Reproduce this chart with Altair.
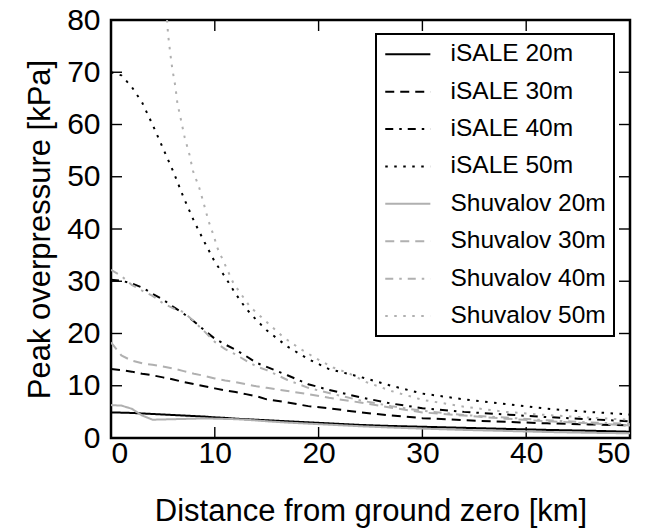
import altair as alt
import pandas as pd

# ---- data ----
series_names = ["iSALE 20m", "iSALE 30m", "iSALE 40m", "iSALE 50m",
                "Shuvalov 20m", "Shuvalov 30m", "Shuvalov 40m", "Shuvalov 50m"]

dist_km = [0, 1, 2, 3, 4, 5, 6, 7, 8, 9, 10, 11, 12, 13, 14, 15, 17, 19, 21,
           24, 27, 30, 34, 38, 42, 46, 50]

isale_20 = [4.9, 4.85, 4.8, 4.7, 4.6, 4.5, 4.4, 4.3, 4.2, 4.1, 3.95, 3.85, 3.7,
            3.6, 3.5, 3.4, 3.2, 3.0, 2.8, 2.5, 2.3, 2.15, 1.95, 1.75, 1.55, 1.4, 1.2]
isale_30 = [13.2, 13.0, 12.7, 12.3, 12.0, 11.6, 11.2, 10.7, 10.3, 9.9, 9.5, 9.1,
            8.8, 8.4, 8.0, 7.4, 6.8, 6.1, 5.7, 4.9, 4.3, 3.8, 3.4, 3.1, 2.8, 2.6, 2.4]
isale_40 = [30.3, 30.1, 29.6, 28.8, 27.6, 26.5, 25.1, 23.8, 22.3, 20.6, 19.0,
            17.9, 16.9, 15.7, 14.4, 13.6, 12.0, 10.3, 9.2, 7.8, 6.6, 5.7, 5.0,
            4.5, 4.0, 3.6, 3.2]
isale_50 = [70.0, 69.4, 67.2, 64.2, 60.0, 55.5, 51.0, 46.0, 41.5, 37.5, 33.7,
            30.8, 27.6, 24.8, 22.6, 20.6, 17.5, 15.1, 13.2, 11.7, 10.0, 8.5,
            7.4, 6.5, 5.6, 5.0, 4.5]
shuv_20 = [6.3, 6.2, 5.6, 4.3, 3.5, 3.55, 3.6, 3.65, 3.7, 3.75, 3.7, 3.65, 3.6,
           3.5, 3.35, 3.2, 2.95, 2.75, 2.55, 2.25, 2.0, 1.8, 1.55, 1.35, 1.15,
           1.0, 0.9]
shuv_30 = [18.3, 15.8, 14.8, 14.3, 14.0, 13.7, 13.3, 12.8, 12.3, 11.9, 11.4,
           11.0, 10.7, 10.3, 9.9, 9.6, 9.0, 8.4, 7.7, 6.8, 5.8, 4.9, 4.3, 3.7,
           3.2, 2.8, 2.4]
shuv_40 = [32.2, 31.0, 29.3, 28.2, 27.2, 25.8, 24.8, 24.1, 22.3, 20.4, 18.4,
           17.0, 16.0, 14.8, 13.7, 13.0, 11.1, 9.6, 8.6, 7.2, 6.1, 5.2, 4.4,
           3.9, 3.4, 3.0, 2.7]

dist_shuv_50 = [5.4, 5.5, 5.7, 5.9, 6.2, 6.4, 6.75, 7.1, 7.55, 7.9, 8.5, 8.96,
                9.4, 9.95, 10.2, 11.8, 13.4, 15.0, 16.6, 18.2, 19.8, 21.4, 23.0,
                24.6, 27, 30, 34, 38, 42, 46, 50]
shuv_50 = [80.0, 77.2, 73.8, 70.7, 67.3, 64.0, 60.8, 57.5, 54.3, 51.1, 47.9,
           44.7, 41.5, 38.4, 36.6, 29.6, 25.1, 22.2, 19.3, 17.1, 15.2, 13.5,
           12.3, 10.7, 9.0, 7.3, 6.0, 5.0, 4.4, 3.9, 3.5]

x_tick_values = [10, 20, 30, 40]
y_tick_values = [10, 20, 30, 40, 50, 60, 70]
x_label_values = [0, 10, 20, 30, 40, 50]
y_label_values = [0, 10, 20, 30, 40, 50, 60, 70, 80]

# ---- build table ----
rows = []
for name, xs, ys in [
    ("iSALE 20m", dist_km, isale_20),
    ("iSALE 30m", dist_km, isale_30),
    ("iSALE 40m", dist_km, isale_40),
    ("iSALE 50m", dist_km, isale_50),
    ("Shuvalov 20m", dist_km, shuv_20),
    ("Shuvalov 30m", dist_km, shuv_30),
    ("Shuvalov 40m", dist_km, shuv_40),
    ("Shuvalov 50m", dist_shuv_50, shuv_50),
]:
    for i, (xv, yv) in enumerate(zip(xs, ys)):
        rows.append({"series": name, "dist": xv, "p": yv, "order": i})
df = pd.DataFrame(rows)

BLACK = "#000000"
GRAY = "#b0b0b0"
colors = [BLACK] * 4 + [GRAY] * 4
solid = [1, 0]
dashed = [9, 6]
dashdot = [8, 6, 2.5, 6]
dotted = [2.5, 6.5]
dashes = [solid, dashed, dashdot, dotted] * 2

W, H = 519, 418
FONT = "Liberation Sans"

xscale = alt.Scale(domain=[0, 50], nice=False, zero=False)
yscale = alt.Scale(domain=[0, 80], nice=False, zero=False)

lines = alt.Chart(df).mark_line(strokeWidth=2, clip=True, strokeCap="butt").encode(
    x=alt.X("dist:Q", scale=xscale,
            axis=alt.Axis(values=x_label_values, title="Distance from ground zero [km]",
                          grid=False, ticks=False, tickSize=0, domain=False,
                          labelFontSize=30, labelFont=FONT, labelColor="black",
                          labelBaseline="alphabetic", labelPadding=24,
                          titleFontSize=31, titleFont=FONT, titleFontWeight="normal",
                          titleColor="black", titleBaseline="alphabetic",
                          titleX=W / 2, titleY=82)),
    y=alt.Y("p:Q", scale=yscale,
            axis=alt.Axis(values=y_label_values, title="Peak overpressure [kPa]",
                          grid=False, ticks=False, tickSize=0, domain=False,
                          labelFontSize=30, labelFont=FONT, labelColor="black",
                          labelPadding=11,
                          titleFontSize=31, titleFont=FONT, titleFontWeight="normal",
                          titleColor="black", titleBaseline="alphabetic",
                          titleX=-62, titleY=H / 2)),
    color=alt.Color("series:N", scale=alt.Scale(domain=series_names, range=colors),
                    legend=alt.Legend(title=None)),
    strokeDash=alt.StrokeDash("series:N", scale=alt.Scale(domain=series_names, range=dashes),
                              legend=alt.Legend(title=None)),
    detail="series:N",
    order="order:Q",
)

xt = pd.DataFrame({"t": x_tick_values})
yt = pd.DataFrame({"t": y_tick_values})
tick_kw = dict(size=11, thickness=1.4, color="black", opacity=1)
xt_bottom = alt.Chart(xt).mark_tick(**tick_kw).encode(x=alt.X("t:Q", scale=xscale), y=alt.value(H - 5.5))
xt_top = alt.Chart(xt).mark_tick(**tick_kw).encode(x=alt.X("t:Q", scale=xscale), y=alt.value(5.5))
yt_left = alt.Chart(yt).mark_tick(**tick_kw).encode(y=alt.Y("t:Q", scale=yscale), x=alt.value(5.5))
yt_right = alt.Chart(yt).mark_tick(**tick_kw).encode(y=alt.Y("t:Q", scale=yscale), x=alt.value(W - 5.5))

chart = alt.layer(xt_bottom, xt_top, yt_left, yt_right, lines).properties(
    width=W, height=H,
    autosize=alt.AutoSizeParams(type="none"),
    padding={"left": 111, "top": 20, "right": 665 - 111 - W, "bottom": 530 - 20 - H},
    background="white",
).configure_view(
    stroke="black", strokeWidth=2.5
).configure_legend(
    orient="none", legendX=265, legendY=14,
    fillColor="white", strokeColor="black", strokeWidth=2, cornerRadius=0,
    padding=8, labelFont=FONT, labelFontSize=24.5, labelColor="black",
    labelOffset=42, symbolType="M-1,0H3.1", symbolSize=484,
    symbolStrokeWidth=2, rowPadding=12.4, labelLimit=300,
)

chart.save("out.html", embed_options={"renderer": "svg", "actions": False})
